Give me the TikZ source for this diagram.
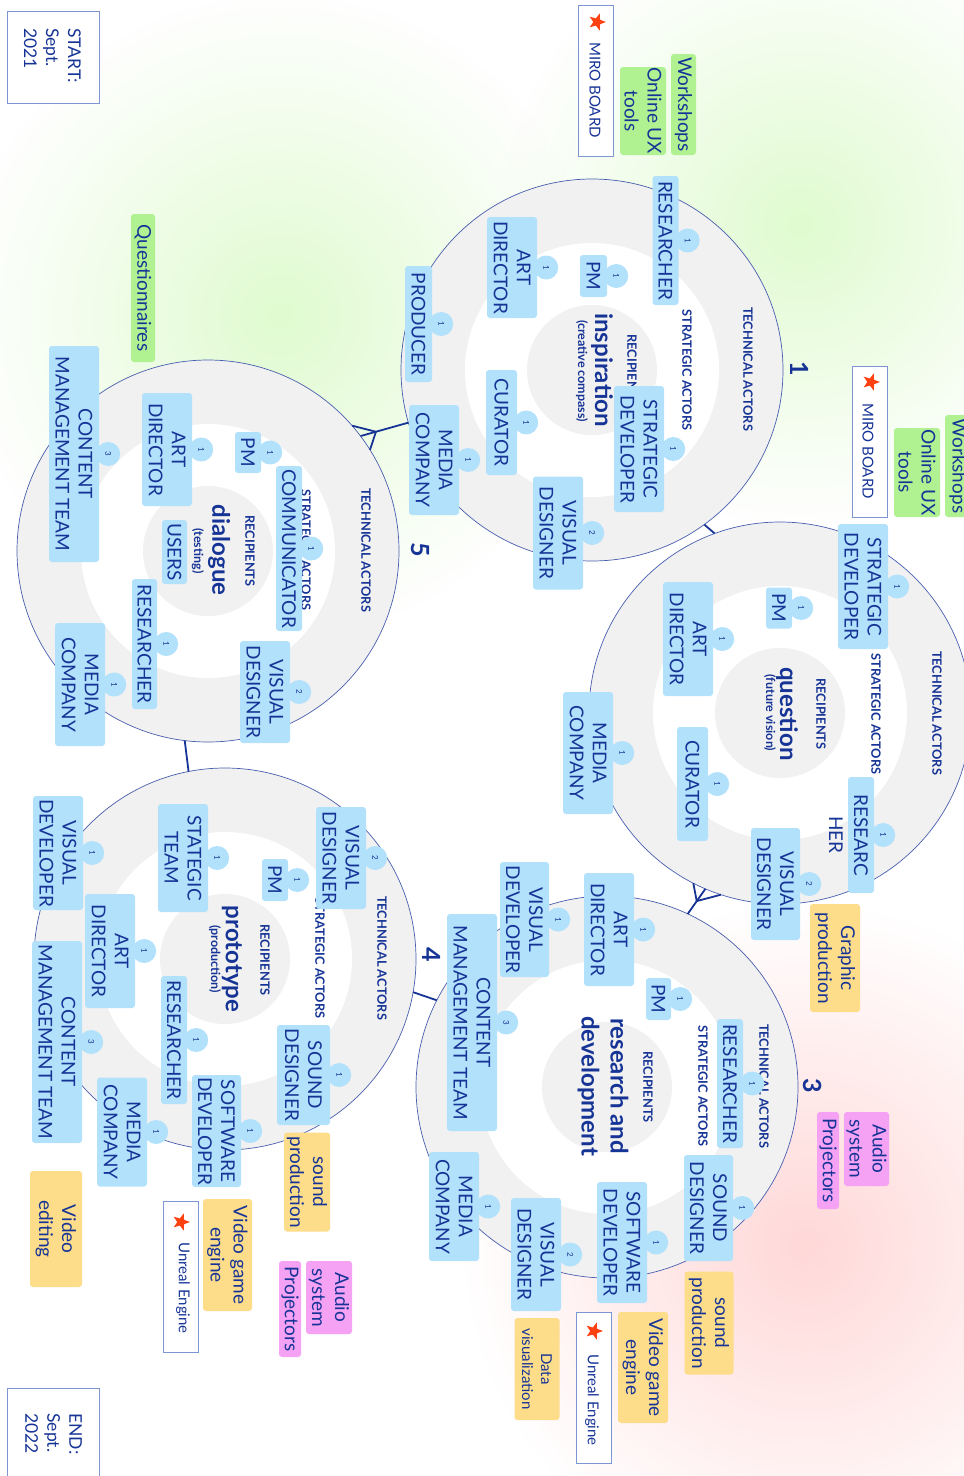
\documentclass[tikz,border=0pt]{standalone}
\usepackage{fontspec}
\setmainfont{Lato}
\usetikzlibrary{calc,shapes.geometric,fadings}

\definecolor{ink}{RGB}{22,52,150}
\definecolor{ringgray}{RGB}{241,241,241}
\definecolor{ringline}{RGB}{72,95,175}
\definecolor{actorblue}{RGB}{178,225,252}
\definecolor{toolgreen}{RGB}{176,242,146}
\definecolor{toolyellow}{RGB}{253,220,138}
\definecolor{toolpink}{RGB}{245,162,245}
\definecolor{frameblue}{RGB}{125,150,210}
\definecolor{starred}{RGB}{255,64,16}
\definecolor{glowgreen}{RGB}{224,251,208}
\definecolor{glowpink}{RGB}{255,216,216}

\tikzfading[name=glowfade, inner color=transparent!0, outer color=transparent!100]

\tikzset{
  outerring/.style={circle, minimum size=382, inner sep=0, outer sep=0, fill=ringgray, draw=ringline, line width=0.7},
  innerring/.style={circle, minimum size=254, inner sep=0, fill=white},
  core/.style={circle, minimum size=130, inner sep=0, fill=ringgray},
  vtext/.style={rotate=-90, text=ink, inner sep=0},
  ringlabel/.style={vtext, font=\fontsize{12.8}{14}\selectfont\bfseries},
  stagetitle/.style={vtext, font=\fontsize{24}{29}\selectfont\bfseries, align=center},
  stagesub/.style={vtext, font=\fontsize{12.5}{14}\selectfont\bfseries},
  stagenum/.style={vtext, font=\fontsize{25}{28}\selectfont\bfseries},
  actor/.style={rotate=-90, fill=actorblue, rounded corners=3, text=ink, align=center, inner sep=0, font=\fontsize{19}{23}\selectfont},
  badge/.style={circle, fill=actorblue, minimum size=24, inner sep=0, text=ink, rotate=-90, font=\fontsize{8}{9}\selectfont},
  tool/.style={rotate=-90, rounded corners=3, text=ink, align=center, inner sep=0, font=\fontsize{19}{23}\selectfont},
  greenbox/.style={tool, fill=toolgreen},
  yellowbox/.style={tool, fill=toolyellow},
  pinkbox/.style={tool, fill=toolpink},
  frame/.style={rotate=-90, draw=frameblue, line width=1, fill=white, minimum width=151, minimum height=35, inner sep=0},
  frametext/.style={vtext, font=\fontsize{15}{18}\selectfont},
  framestar/.style={star, star points=5, star point ratio=2.4, fill=starred, minimum size=18, inner sep=0, rotate=-90},
  datebox/.style={rotate=-90, draw=frameblue, line width=1, fill=white, minimum size=92, inner sep=0},
  datetext/.style={vtext, align=left, font=\fontsize{17.5}{22}\selectfont},
  link/.style={draw=ink, line width=1.8},
}

% actor box with its count badge: name, x, y, length, thickness, text, count
\newcommand\actorbox[7]{%
  \node[actor, minimum width=#4, minimum height=#5] (#1) at (#2,#3) {#6};
  \node[badge] (#1n) at ($(#1.north)+(9,0)$) {#7};
}

\begin{document}
\begin{tikzpicture}[x=1pt,y=-1pt]
\useasboundingbox (0,0) rectangle (964,1476);
\clip (0,0) rectangle (964,1476);
\fill[white] (0,0) rectangle (964,1476);

% soft background glows
\fill[glowgreen, path fading=glowfade] (800,225) circle (300);
\fill[glowgreen, path fading=glowfade] (280,315) circle (320);
\fill[glowpink, path fading=glowfade] (805,1245) circle (340);

% the five stage rings
\node[outerring] (c1) at (592,370) {};
\node[innerring] (c1w) at (592,370) {};
\node[core] (c1k) at (592,370) {};
\node[outerring] (c2) at (780,713) {};
\node[innerring] (c2w) at (780,713) {};
\node[core] (c2k) at (780,713) {};
\node[outerring] (c3) at (607,1087) {};
\node[innerring] (c3w) at (607,1087) {};
\node[core] (c3k) at (607,1087) {};
\node[outerring] (c4) at (225,959) {};
\node[innerring] (c4w) at (225,959) {};
\node[core] (c4k) at (225,959) {};
\node[outerring] (c5) at (208,551) {};
\node[innerring] (c5w) at (208,551) {};
\node[core] (c5k) at (208,551) {};

% links between stages
\draw[link] (c1.-54) -- (c2.110.6);
\draw[link] (c2.-113) -- (c3.65);
\coordinate (f23) at ($(c2.-113)!15pt!(c3.65)$);
\draw[link] (c2.-108.5) -- (f23) -- (c2.-117.5);
\draw[link] (c3.153) -- (c4.-10.4);
\draw[link] (c4.101.4) -- (c5.-97.5);
\draw[link] (c1.-164) -- (c5.37);
\coordinate (f51) at ($(c5.37)!16pt!(c1.-164)$);
\draw[link] (c5.32.5) -- (f51) -- (c5.41.5);

% ring labels and stage titles
\node[ringlabel] (t1) at (748,369) {TECHNICAL ACTORS};
\node[ringlabel] (s1) at (687,370) {STRATEGIC ACTORS};
\node[ringlabel] (r1) at (632,370) {RECIPIENTS};
\node[stagetitle] (h1) at (602,370) {inspiration};
\node[stagesub] (u1) at (582,371) {(creative compass)};

\node[ringlabel] (t2) at (937,713) {TECHNICAL ACTORS};
\node[ringlabel] (s2) at (876,714) {STRATEGIC ACTORS};
\node[ringlabel] (r2) at (821,714) {RECIPIENTS};
\node[stagetitle] (h2) at (787,714) {question};
\node[stagesub] (u2) at (770,713) {(future vision)};

\node[ringlabel] (t3) at (764,1086) {TECHNICAL ACTORS};
\node[ringlabel] (s3) at (703,1086) {STRATEGIC ACTORS};
\node[ringlabel] (r3) at (648,1087) {RECIPIENTS};
\node[stagetitle] (h3) at (603,1086) {research and\\development};

\node[ringlabel] (t4) at (382,958) {TECHNICAL ACTORS};
\node[ringlabel] (s4) at (320,958) {STRATEGIC ACTORS};
\node[ringlabel] (r4) at (265,960) {RECIPIENTS};
\node[stagetitle] (h4) at (232,959) {prototype};
\node[stagesub] (u4) at (215,959) {(production)};

\node[ringlabel] (t5) at (366,550) {TECHNICAL ACTORS};
\node[ringlabel] (s5) at (306,550) {STRATEGIC ACTORS};
\node[ringlabel] (r5) at (250,551) {RECIPIENTS};
\node[stagetitle] (h5) at (219,550) {dialogue};
\node[stagesub] (u5) at (198,551) {(testing)};

% stage numbers
\node[stagenum] (n1) at (800,369) {1};
\node[stagenum] (n3) at (813,1086) {3};
\node[stagenum] (n4) at (432,955) {4};
\node[stagenum] (n5) at (420,550) {5};

% stage 1 actors
\actorbox{a1a}{665.5}{240.5}{129}{26}{RESEARCHER}{1}
\actorbox{a1b}{512}{267.5}{101}{50}{ART\\DIRECTOR}{1}
\actorbox{a1c}{593.5}{276}{42}{27}{PM}{1}
\actorbox{a1d}{418.5}{324}{116}{27}{PRODUCER}{1}
\actorbox{a1e}{501.5}{422.5}{105}{31}{CURATOR}{1}
\actorbox{a1f}{639}{449}{126}{50}{STRATEGIC\\DEVELOPER}{1}
\actorbox{a1g}{434}{460}{110}{50}{MEDIA\\COMPANY}{1}
\actorbox{a1h}{558}{533}{113}{50}{VISUAL\\DESIGNER}{2}

% stage 2 actors
\actorbox{a2a}{863}{586.5}{125}{50}{STRATEGIC\\DEVELOPER}{1}
\actorbox{a2b}{779}{608}{41}{26}{PM}{1}
\actorbox{a2c}{688}{639}{114}{50}{ART\\DIRECTOR}{1}
\actorbox{a2d}{588}{753}{122}{50}{MEDIA\\COMPANY}{1}
\actorbox{a2e}{692.5}{784}{114}{31}{CURATOR}{1}
\actorbox{a2f}{861}{835}{116}{26}{RESEARC}{1}
\node[vtext, font=\fontsize{19}{23}\selectfont] (a2fx) at (836,835) {HER};
\actorbox{a2g}{775.5}{884}{112}{49}{VISUAL\\DESIGNER}{2}

% stage 3 actors
\actorbox{a3a}{609}{929.5}{113}{50}{ART\\DIRECTOR}{1}
\actorbox{a3b}{524.5}{919.5}{115}{49}{VISUAL\\DEVELOPER}{1}
\actorbox{a3c}{472}{1022.5}{217}{50}{CONTENT\\MANAGEMENT TEAM}{3}
\actorbox{a3d}{658.5}{999}{42}{25}{PM}{1}
\actorbox{a3e}{730}{1083.5}{129}{26}{RESEARCHER}{1}
\actorbox{a3f}{708.5}{1208}{106}{49}{SOUND\\DESIGNER}{1}
\actorbox{a3g}{622}{1242.5}{121}{50}{SOFTWARE\\DEVELOPER}{1}
\actorbox{a3h}{536}{1254.5}{113}{50}{VISUAL\\DESIGNER}{2}
\actorbox{a3i}{454}{1206.5}{109}{50}{MEDIA\\COMPANY}{1}

% stage 4 actors
\actorbox{a4a}{341}{858}{102}{50}{VISUAL\\DESIGNER}{2}
\actorbox{a4b}{275}{880}{42}{26}{PM}{1}
\actorbox{a4c}{183}{858}{108}{50}{STATEGIC\\TEAM}{1}
\actorbox{a4d}{58}{853}{114}{50}{VISUAL\\DEVELOPER}{1}
\actorbox{a4e}{110}{951}{114}{50}{ART\\DIRECTOR}{1}
\actorbox{a4f}{57}{1042}{202}{50}{CONTENT\\MANAGEMENT TEAM}{3}
\actorbox{a4g}{174}{1040}{128}{26}{RESEARCHER}{1}
\actorbox{a4h}{303.5}{1075}{100}{53}{SOUND\\DESIGNER}{1}
\actorbox{a4i}{216.5}{1131}{112}{49}{SOFTWARE\\DEVELOPER}{1}
\actorbox{a4j}{122}{1132}{109}{50}{MEDIA\\COMPANY}{1}

% stage 5 actors
\actorbox{a5a}{74}{454}{216}{50}{CONTENT\\MANAGEMENT TEAM}{3}
\actorbox{a5b}{167}{449.5}{113}{50}{ART\\DIRECTOR}{1}
\actorbox{a5c}{248}{452.5}{41}{26}{PM}{1}
\actorbox{a5d}{289}{548.5}{165}{26}{COMMUNICATOR}{1}
\node[actor, minimum width=64, minimum height=25] (a5e) at (174.5,552) {USERS};
\actorbox{a5f}{144.5}{644}{130}{25}{RESEARCHER}{1}
\actorbox{a5g}{80}{684.5}{123}{50}{MEDIA\\COMPANY}{1}
\actorbox{a5h}{265}{692}{102}{50}{VISUAL\\DESIGNER}{2}

% methods and tools
\node[greenbox, minimum width=101, minimum height=25] (w1) at (683.5,104.5) {Workshops};
\node[greenbox, minimum width=88, minimum height=46] (o1) at (643,111) {Online UX\\tools};
\node[greenbox, minimum width=102, minimum height=26] (w2) at (958,466) {Workshops};
\node[greenbox, minimum width=89, minimum height=46] (o2) at (917,472.5) {Online UX\\tools};
\node[greenbox, minimum width=148, minimum height=24] (q5) at (143,288) {Questionnaires};
\node[yellowbox, minimum width=108, minimum height=50] (g2) at (835,958) {Graphic\\production};
\node[pinkbox, minimum width=74, minimum height=45] (au3) at (866.5,1149) {Audio\\system};
\node[pinkbox, minimum width=97, minimum height=22] (pr3) at (828,1160.5) {Projectors};
\node[yellowbox, minimum width=103, minimum height=49] (sp3) at (709,1323) {sound\\production};
\node[yellowbox, minimum width=111, minimum height=50] (vg3) at (643,1367.5) {Video game\\engine};
\node[yellowbox, minimum width=102, minimum height=45, font=\fontsize{15}{19}\selectfont] (dv3) at (537,1369) {Data\\visualization};
\node[yellowbox, minimum width=99, minimum height=46] (sp4) at (307,1182) {sound\\production};
\node[yellowbox, minimum width=116, minimum height=52] (ve4) at (56,1229) {Video\\editing};
\node[yellowbox, minimum width=112, minimum height=49] (vg4) at (227.5,1255) {Video game\\engine};
\node[pinkbox, minimum width=73, minimum height=46] (au4) at (329,1297.5) {Audio\\system};
\node[pinkbox, minimum width=96, minimum height=22] (pr4) at (290,1309) {Projectors};

% software frames
\node[frame] (m1) at (595.5,80.5) {};
\node[framestar] (m1s) at (597,22) {};
\node[frametext] (m1t) at (595,90) {MIRO BOARD};
\node[frame] (m2) at (870,442) {};
\node[framestar] (m2s) at (871,382) {};
\node[frametext] (m2t) at (868,451) {MIRO BOARD};
\node[frame] (ue3) at (593.5,1387.5) {};
\node[framestar] (ue3s) at (594,1331) {};
\node[frametext] (ue3t) at (592,1400) {Unreal Engine};
\node[frame] (ue4) at (180.5,1276.5) {};
\node[framestar] (ue4s) at (181,1222) {};
\node[frametext] (ue4t) at (183,1288) {Unreal Engine};

% project dates
\node[datebox] (sb) at (53,57) {};
\node[datetext] (st) at (52.5,55.5) {START:\\Sept.\\2021};
\node[datebox] (eb) at (53,1434) {};
\node[datetext] (et) at (53.5,1434) {END:\\Sept.\\2022};
\end{tikzpicture}
\end{document}
